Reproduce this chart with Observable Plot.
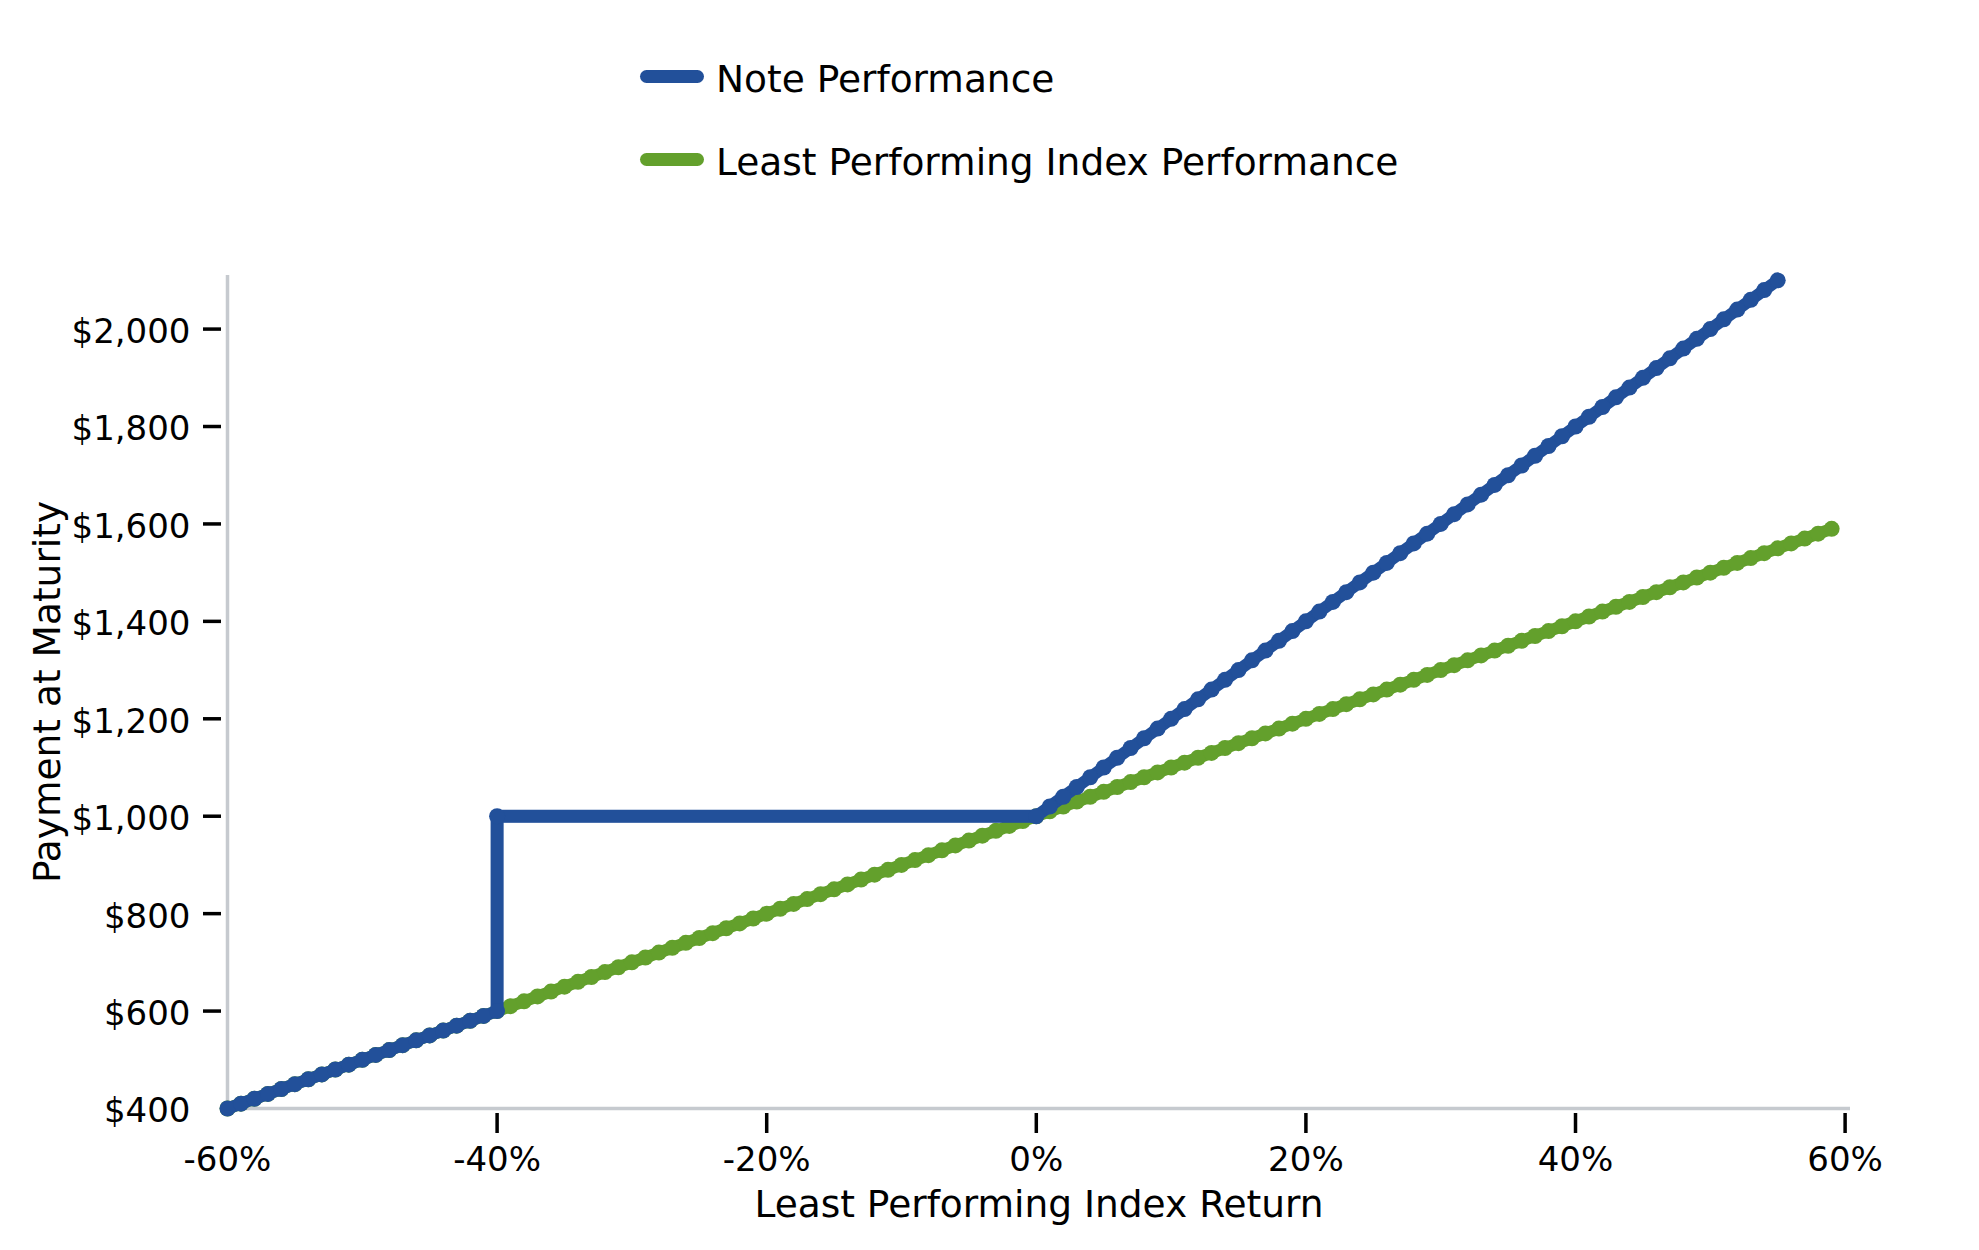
<!DOCTYPE html>
<html>
<head>
<meta charset="utf-8">
<script src="https://cdn.jsdelivr.net/npm/d3@7"></script>
<script src="https://cdn.jsdelivr.net/npm/@observablehq/plot@0.6"></script>
<style>
  html, body { margin: 0; padding: 0; background: #ffffff; }
  body { width: 1979px; height: 1250px; overflow: hidden; font-family: "DejaVu Sans", sans-serif; }
  #legend { position: relative; width: 1979px; height: 200px; }
  .row { position: absolute; left: 640px; display: flex; align-items: center; height: 50px; }
  .sw { width: 64px; height: 13px; border-radius: 6.5px; margin-right: 12px; }
  .lab { font-size: 37.5px; color: #000; line-height: 50px; position: relative; top: 3px; }
</style>
</head>
<body>
<div id="legend"></div>
<div id="chart"></div>
<script>
// ---- data ----
const seriesNames = ["Note Performance", "Least Performing Index Performance"];
const seriesColors = ["#22509a", "#63a02c"];

const indexX = [-60,-59,-58,-57,-56,-55,-54,-53,-52,-51,-50,-49,-48,-47,-46,-45,-44,-43,-42,-41,-40,-39,-38,-37,-36,-35,-34,-33,-32,-31,-30,-29,-28,-27,-26,-25,-24,-23,-22,-21,-20,-19,-18,-17,-16,-15,-14,-13,-12,-11,-10,-9,-8,-7,-6,-5,-4,-3,-2,-1,0,1,2,3,4,5,6,7,8,9,10,11,12,13,14,15,16,17,18,19,20,21,22,23,24,25,26,27,28,29,30,31,32,33,34,35,36,37,38,39,40,41,42,43,44,45,46,47,48,49,50,51,52,53,54,55,56,57,58,59];
const indexY = [400,410,420,430,440,450,460,470,480,490,500,510,520,530,540,550,560,570,580,590,600,610,620,630,640,650,660,670,680,690,700,710,720,730,740,750,760,770,780,790,800,810,820,830,840,850,860,870,880,890,900,910,920,930,940,950,960,970,980,990,1000,1010,1020,1030,1040,1050,1060,1070,1080,1090,1100,1110,1120,1130,1140,1150,1160,1170,1180,1190,1200,1210,1220,1230,1240,1250,1260,1270,1280,1290,1300,1310,1320,1330,1340,1350,1360,1370,1380,1390,1400,1410,1420,1430,1440,1450,1460,1470,1480,1490,1500,1510,1520,1530,1540,1550,1560,1570,1580,1590];

const noteX = [-60,-59,-58,-57,-56,-55,-54,-53,-52,-51,-50,-49,-48,-47,-46,-45,-44,-43,-42,-41,-40,-40,0,1,2,3,4,5,6,7,8,9,10,11,12,13,14,15,16,17,18,19,20,21,22,23,24,25,26,27,28,29,30,31,32,33,34,35,36,37,38,39,40,41,42,43,44,45,46,47,48,49,50,51,52,53,54,55];
const noteY = [400,410,420,430,440,450,460,470,480,490,500,510,520,530,540,550,560,570,580,590,600,1000,1000,1020,1040,1060,1080,1100,1120,1140,1160,1180,1200,1220,1240,1260,1280,1300,1320,1340,1360,1380,1400,1420,1440,1460,1480,1500,1520,1540,1560,1580,1600,1620,1640,1660,1680,1700,1720,1740,1760,1780,1800,1820,1840,1860,1880,1900,1920,1940,1960,1980,2000,2020,2040,2060,2080,2100];

const xDomain = [-60, 60.4];
const yDomain = [400, 2110];
const xTickMarks = [-40, -20, 0, 20, 40, 60];
const xTickLabels = [-60, -40, -20, 0, 20, 40, 60];
const yTickMarks = [600, 800, 1000, 1200, 1400, 1600, 1800, 2000];
const yTickLabels = [400, 600, 800, 1000, 1200, 1400, 1600, 1800, 2000];
const xTitle = "Least Performing Index Return";
const yTitle = "Payment at Maturity";

// ---- build tables ----
const indexData = indexX.map((x, i) => ({x, y: indexY[i]}));
const noteData = noteX.map((x, i) => ({x, y: noteY[i]}));
const stepData = noteData.slice(20, 23);

// ---- legend ----
const legend = document.getElementById("legend");
const rowCenters = [76, 159];
seriesNames.forEach((name, i) => {
  const row = document.createElement("div");
  row.className = "row";
  row.style.top = (rowCenters[i] - 25) + "px";
  const sw = document.createElement("span");
  sw.className = "sw";
  sw.style.background = seriesColors[i];
  const lab = document.createElement("span");
  lab.className = "lab";
  lab.textContent = name;
  row.append(sw, lab);
  legend.append(row);
});

// ---- chart ----
const spine = "#c6cacf";
const fmtMoney = d => "$" + d3.format(",")(d);
const fmtPct = d => d + "%";

const chart = Plot.plot({
  width: 1979,
  height: 1050,
  marginTop: 75,
  marginBottom: 142,
  marginLeft: 227,
  marginRight: 129,
  style: {fontFamily: "DejaVu Sans", fontSize: "34px", color: "#000", background: "#fff", overflow: "visible"},
  x: {domain: xDomain},
  y: {domain: yDomain},
  marks: [
    Plot.ruleY([yDomain[0]], {stroke: spine, strokeWidth: 3.5}),
    Plot.ruleX([xDomain[0]], {stroke: spine, strokeWidth: 3.5}),
    Plot.axisX(xTickMarks, {tickSize: 20, dy: 5, strokeWidth: 3.5, stroke: "#000", tickFormat: () => "", label: null}),
    Plot.axisX(xTickLabels, {tickSize: 0, tickPadding: 38, tickFormat: fmtPct, fontSize: 34, label: null, fill: "#000"}),
    Plot.axisY(yTickMarks, {tickSize: 18, dx: -6, strokeWidth: 3.5, stroke: "#000", tickFormat: () => "", label: null}),
    Plot.axisY(yTickLabels, {tickSize: 0, tickPadding: 37, dy: 3, tickFormat: fmtMoney, fontSize: 34, label: null, fill: "#000"}),
    Plot.text([xTitle], {frameAnchor: "bottom", lineAnchor: "middle", dy: 96, fontSize: 37.5, fill: "#000"}),
    Plot.text([yTitle], {frameAnchor: "left", textAnchor: "middle", lineAnchor: "middle", dx: -180, rotate: -90, fontSize: 37.5, fill: "#000"}),
    Plot.line(indexData, {x: "x", y: "y", stroke: seriesColors[1], strokeWidth: 12, strokeLinejoin: "round", strokeLinecap: "round"}),
    Plot.dot(indexData, {x: "x", y: "y", r: 8, fill: seriesColors[1]}),
    Plot.line(noteData, {x: "x", y: "y", stroke: seriesColors[0], strokeWidth: 12, strokeLinejoin: "round", strokeLinecap: "round"}),
    Plot.line(stepData, {x: "x", y: "y", stroke: seriesColors[0], strokeWidth: 13, strokeLinejoin: "round", strokeLinecap: "round"}),
    Plot.dot(noteData, {x: "x", y: "y", r: 8, fill: seriesColors[0]})
  ]
});
document.getElementById("chart").append(chart);
</script>
</body>
</html>
